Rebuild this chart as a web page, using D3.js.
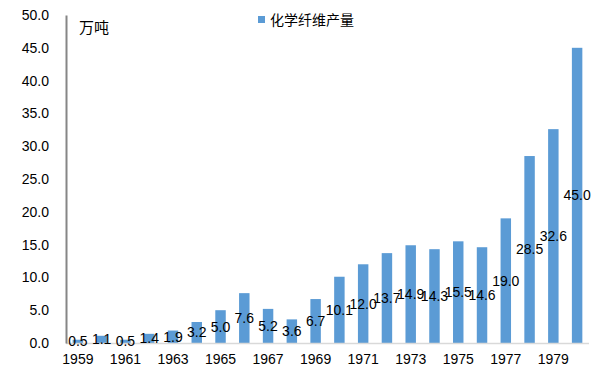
<!DOCTYPE html>
<html>
<head>
<meta charset="utf-8">
<script src="https://cdn.jsdelivr.net/npm/d3@7"></script>
<style>
  body { margin: 0; background: #fff; }
  text { font-family: "Liberation Sans", Arial, sans-serif; fill: #000; }
</style>
</head>
<body>
<div id="chart"></div>
<script>
const years = ['1959', '1960', '1961', '1962', '1963', '1964', '1965', '1966', '1967', '1968', '1969',
    '1970', '1971', '1972', '1973', '1974', '1975', '1976', '1977', '1978', '1979', '1980'];
const output = [0.5, 1.1, 0.5, 1.4, 1.9, 3.2, 5.0, 7.6, 5.2, 3.6, 6.7,
    10.1, 12.0, 13.7, 14.9, 14.3, 15.5, 14.6, 19.0, 28.5, 32.6, 45.0];
const yTicks = [0, 5, 10, 15, 20, 25, 30, 35, 40, 45, 50];
const seriesName = '化学纤维产量';
const unitLabel = '万吨';

const width = 609, height = 387;
const margin = {top: 15, right: 20, bottom: 44, left: 66};
const w = width - margin.left - margin.right,
    h = height - margin.top - margin.bottom;
const barColor = '#5b9bd5';

const svg = d3.select('#chart')
    .append('svg')
    .attr('width', width)
    .attr('height', height);

const g = svg.append('g')
    .attr('transform', `translate(${margin.left},${margin.top})`);

const x = d3.scaleBand().domain(years).range([0, w]).paddingInner(0.56).paddingOuter(0.28);
const y = d3.scaleLinear().domain([0, 50]).range([h, 0]);

// bars
g.selectAll('rect.bar')
    .data(output)
    .enter().append('rect')
    .attr('class', 'bar')
    .attr('x', (d, i) => x(years[i]))
    .attr('width', x.bandwidth())
    .attr('y', d => y(d))
    .attr('height', d => h - y(d))
    .attr('fill', barColor);

// X axis
const xAxis = g.append('g')
    .attr('transform', `translate(0,${h})`)
    .call(d3.axisBottom(x)
        .tickValues(years.filter((d, i) => i % 2 === 0))
        .tickSize(0)
        .tickPadding(11));
xAxis.select('.domain').attr('stroke', '#d9d9d9').attr('stroke-width', 1.5)
    .attr('d', `M0,0.5H${w}`);
xAxis.selectAll('text').attr('font-size', 14).attr('fill', '#000');

// Y axis
const yAxis = g.append('g')
    .call(d3.axisLeft(y)
        .tickValues(yTicks)
        .tickFormat(d3.format('.1f'))
        .tickSize(0)
        .tickPadding(17));
yAxis.select('.domain').attr('stroke', '#868686').attr('stroke-width', 2);
yAxis.selectAll('text').attr('font-size', 14).attr('fill', '#000');

// data labels, centred in each bar
g.selectAll('text.val')
    .data(output)
    .enter().append('text')
    .attr('class', 'val')
    .attr('x', (d, i) => x(years[i]) + x.bandwidth() / 2)
    .attr('y', d => y(d / 2))
    .attr('dy', '0.35em')
    .attr('text-anchor', 'middle')
    .attr('font-size', 14)
    .text(d => d.toFixed(1));

// unit label
svg.append('text')
    .attr('x', 79)
    .attr('y', 33)
    .attr('font-size', 15)
    .style('font-family', '"Noto Sans CJK SC", sans-serif')
    .text(unitLabel);

// legend
svg.append('rect')
    .attr('x', 258)
    .attr('y', 16)
    .attr('width', 7)
    .attr('height', 7)
    .attr('fill', barColor);
svg.append('text')
    .attr('x', 270)
    .attr('y', 25)
    .attr('font-size', 14)
    .style('font-family', '"Noto Sans CJK SC", sans-serif')
    .text(seriesName);
</script>
</body>
</html>
